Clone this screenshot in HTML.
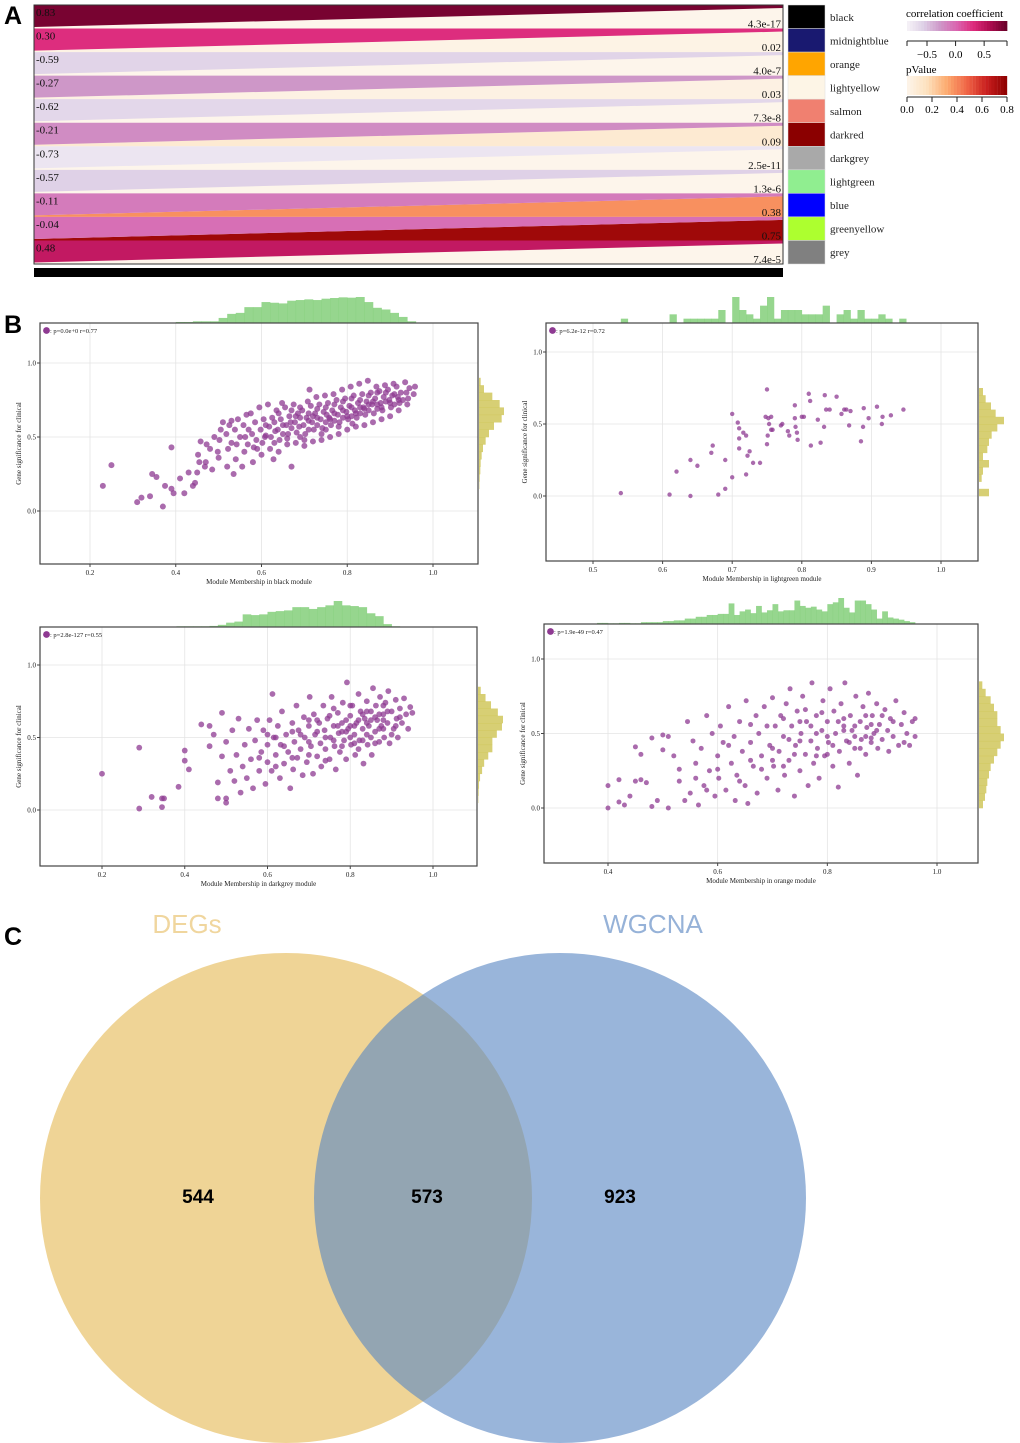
<!DOCTYPE html>
<html><head><meta charset="utf-8"><style>
body{margin:0;background:#fff;}
svg{display:block;font-family:"Liberation Serif",serif;}
</style></head><body>
<svg id="fig" width="1020" height="1443" viewBox="0 0 1020 1443">
<g id="panelA"></g>
<g id="panelB"></g>
<g id="panelC">
<ellipse cx="286" cy="1198" rx="246" ry="245" fill="#e8c26a" fill-opacity="0.7"/>
<ellipse cx="560" cy="1198" rx="246" ry="245" fill="#5b88c4" fill-opacity="0.62"/>
<text x="187" y="933" font-family="Liberation Sans,sans-serif" font-size="26" fill="#f0d69e" text-anchor="middle">DEGs</text>
<text x="653" y="933" font-family="Liberation Sans,sans-serif" font-size="26" fill="#96b2d8" text-anchor="middle">WGCNA</text>
<text x="198" y="1203" font-family="Liberation Sans,sans-serif" font-size="19" font-weight="bold" text-anchor="middle">544</text>
<text x="427" y="1203" font-family="Liberation Sans,sans-serif" font-size="19" font-weight="bold" text-anchor="middle">573</text>
<text x="620" y="1203" font-family="Liberation Sans,sans-serif" font-size="19" font-weight="bold" text-anchor="middle">923</text>
</g>
<text x="4" y="24" font-family="Liberation Sans,sans-serif" font-size="25" font-weight="bold">A</text>
<text x="4" y="333" font-family="Liberation Sans,sans-serif" font-size="25" font-weight="bold">B</text>
<text x="4" y="945" font-family="Liberation Sans,sans-serif" font-size="25" font-weight="bold">C</text>
</svg>
<script>
const NS="http://www.w3.org/2000/svg";
// ---------- Panel A data ----------
const modules=["black","midnightblue","orange","lightyellow","salmon","darkred","darkgrey","lightgreen","blue","greenyellow","grey"];
const moduleColors=["#000000","#191970","#ffa500","#fdf5e6","#f08070","#8b0000","#a9a9a9","#90ee90","#0000ff","#adff2f","#808080"];
const corrValues=[0.83,0.30,-0.59,-0.27,-0.62,-0.21,-0.73,-0.57,-0.11,-0.04,0.48];
const corrLabels=["0.83","0.30","-0.59","-0.27","-0.62","-0.21","-0.73","-0.57","-0.11","-0.04","0.48"];
const pValues=[4.3e-17,0.02,4.0e-7,0.03,7.3e-8,0.09,2.5e-11,1.3e-6,0.38,0.75,7.4e-5];
const pLabels=["4.3e-17","0.02","4.0e-7","0.03","7.3e-8","0.09","2.5e-11","1.3e-6","0.38","0.75","7.4e-5"];
const corrTicks=[-0.5,0.0,0.5];
const pTicks=[0.0,0.2,0.4,0.6,0.8];

function mk(tag,attrs,parent){const e=document.createElementNS(NS,tag);for(const k in attrs)e.setAttribute(k,attrs[k]);if(parent)parent.appendChild(e);return e;}
function lerp(a,b,t){return a+(b-a)*t;}
function interp(stops,t){t=Math.max(0,Math.min(1,t));const n=stops.length-1;const i=Math.min(n-1,Math.floor(t*n));const f=t*n-i;const a=stops[i],b=stops[i+1];
return "rgb("+Math.round(lerp(a[0],b[0],f))+","+Math.round(lerp(a[1],b[1],f))+","+Math.round(lerp(a[2],b[2],f))+")";}
const corrStops=[[246,243,248],[222,208,230],[206,150,200],[218,100,175],[221,42,123],[172,12,78],[103,0,40]];
const pStops=[[253,245,235],[253,225,190],[252,170,110],[240,100,70],[200,30,30],[140,0,0]];
function corrColor(v){return interp(corrStops,(v+0.85)/1.75);}
function pColor(v){return interp(pStops,v/0.8);}

(function(){
 const g=document.getElementById('panelA');
 const x0=34,x1=783,top=5,bot=264,n=modules.length,h=(bot-top)/n;
 mk('rect',{x:x0,y:top,width:x1-x0,height:bot-top,fill:'#fdf5ea'},g);
 for(let i=0;i<n;i++){
  const y0=top+i*h,y1=y0+h;
  const pp=mk('polygon',{points:`${x0},${y1-1.5} ${x1},${y0+3} ${x1},${y1} ${x0},${y1}`,fill:pColor(pValues[i])},g);
  
  
  const cp=mk('polygon',{points:`${x0},${y0} ${x1},${y0} ${x1},${y0+3} ${x0},${y1-1.5}`,fill:corrColor(corrValues[i])},g);
  
  
  const t1=mk('text',{x:x0+2,y:y0+11,'font-size':11,fill:'#111'},g);t1.textContent=corrLabels[i];
  
  
  const t2=mk('text',{x:x1-2,y:y1-1,'font-size':11,'text-anchor':'end',fill:'#111'},g);t2.textContent=pLabels[i];
  
  
  const sq=mk('rect',{x:788,y:y0,width:37,height:h,fill:moduleColors[i],stroke:'#ddd','stroke-width':0.5},g);
  
  
  const ml=mk('text',{x:830,y:y0+h/2+4,'font-size':11,fill:'#222'},g);ml.textContent=modules[i];
  
  
 }
 mk('rect',{x:x0,y:top,width:x1-x0,height:bot-top,fill:'none',stroke:'#333','stroke-width':1},g);
 const bar=mk('rect',{x:x0,y:268,width:x1-x0,height:9,fill:'#000'},g);
 
 
 const cb=mk('g',{},g);
 
 
 const ct=mk('text',{x:906,y:17,'font-size':11},cb);ct.textContent='correlation coefficient';
 const cx=v=>907+(v+0.85)/1.75*100;
 for(let k=0;k<35;k++){const v=-0.85+k*1.75/35;mk('rect',{x:cx(v),y:21,width:3.2,height:10,fill:corrColor(v+0.025)},cb);}
 mk('line',{x1:907,x2:1007,y1:41,y2:41,stroke:'#222'},cb);
 [907,1007].forEach(x=>mk('line',{x1:x,x2:x,y1:41,y2:46,stroke:'#222'},cb));
 corrTicks.forEach(v=>{mk('line',{x1:cx(v),x2:cx(v),y1:41,y2:46,stroke:'#222'},cb);const t=mk('text',{x:cx(v),y:58,'font-size':11,'text-anchor':'middle'},cb);t.textContent=(v<0?'\u2212':'')+Math.abs(v).toFixed(1);});
 const pb=mk('g',{},g);
 
 
 const pt=mk('text',{x:906,y:73,'font-size':11},pb);pt.textContent='pValue';
 const px=v=>907+v/0.8*100;
 for(let k=0;k<32;k++){const v=k*0.8/32;mk('rect',{x:px(v),y:76,width:3.3,height:19,fill:pColor(v+0.0125)},pb);}
 mk('line',{x1:907,x2:1007,y1:97,y2:97,stroke:'#222'},pb);
 pTicks.forEach(v=>{mk('line',{x1:px(v),x2:px(v),y1:97,y2:102,stroke:'#222'},pb);const t=mk('text',{x:px(v),y:113,'font-size':11,'text-anchor':'middle'},pb);t.textContent=v.toFixed(1);});
})();

// ---------- Panel B data ----------
const blackPts=[0.23,0.17,0.25,0.31,0.31,0.06,0.32,0.09,0.34,0.10,0.345,0.25,0.355,0.23,0.37,0.03,0.375,0.17,0.39,0.43,0.39,0.15,0.395,0.12,0.41,0.22,0.42,0.12,0.43,0.26,0.44,0.17,0.445,0.19,0.455,0.33,
0.45,0.26,0.452,0.38,0.458,0.47,0.47,0.33,0.472,0.45,0.468,0.30,0.48,0.42,0.485,0.28,0.49,0.50,0.50,0.36,0.502,0.48,0.505,0.55,0.498,0.40,0.51,0.60,
0.52,0.30,0.522,0.42,0.518,0.52,0.525,0.58,0.53,0.61,0.54,0.35,0.542,0.45,0.538,0.55,0.545,0.62,0.535,0.25,0.56,0.40,0.562,0.50,0.558,0.58,0.565,0.65,0.555,0.30,0.568,0.45,
0.58,0.33,0.582,0.43,0.578,0.52,0.585,0.60,0.575,0.66,0.588,0.48,0.60,0.38,0.602,0.46,0.598,0.55,0.605,0.62,0.595,0.70,0.608,0.50,0.61,0.58,
0.62,0.42,0.622,0.50,0.618,0.57,0.625,0.63,0.615,0.72,0.628,0.35,0.632,0.54,0.64,0.40,0.642,0.48,0.638,0.55,0.645,0.62,0.635,0.68,0.648,0.73,0.65,0.58,
0.66,0.45,0.662,0.52,0.658,0.58,0.665,0.64,0.655,0.70,0.668,0.60,0.67,0.30,0.68,0.46,0.682,0.53,0.678,0.60,0.685,0.66,0.675,0.72,0.688,0.57,0.69,0.63,
0.70,0.44,0.702,0.52,0.698,0.58,0.705,0.63,0.695,0.68,0.708,0.74,0.71,0.61,0.712,0.82,0.72,0.47,0.722,0.55,0.718,0.60,0.725,0.66,0.715,0.71,0.728,0.77,0.73,0.63,
0.74,0.48,0.742,0.56,0.738,0.62,0.745,0.67,0.735,0.72,0.748,0.78,0.75,0.60,0.752,0.65,0.76,0.50,0.762,0.58,0.758,0.63,0.765,0.68,0.755,0.73,0.768,0.79,0.77,0.66,
0.78,0.52,0.782,0.60,0.778,0.65,0.785,0.70,0.775,0.75,0.788,0.82,0.79,0.68,0.80,0.55,0.802,0.62,0.798,0.67,0.805,0.71,0.795,0.76,0.808,0.84,0.81,0.70,0.812,0.59,
0.82,0.57,0.822,0.63,0.818,0.68,0.825,0.73,0.815,0.78,0.828,0.86,0.83,0.70,0.84,0.58,0.842,0.65,0.838,0.70,0.845,0.74,0.835,0.79,0.848,0.88,0.85,0.72,
0.86,0.60,0.862,0.66,0.858,0.72,0.865,0.76,0.855,0.80,0.868,0.84,0.87,0.69,0.88,0.62,0.882,0.68,0.878,0.73,0.885,0.77,0.875,0.81,0.888,0.85,
0.90,0.64,0.902,0.70,0.898,0.75,0.905,0.78,0.895,0.82,0.908,0.86,0.92,0.68,0.922,0.73,0.918,0.77,0.925,0.80,0.915,0.84,0.93,0.75,
0.94,0.72,0.942,0.76,0.938,0.80,0.945,0.83,0.935,0.87,0.955,0.79,0.958,0.84,
0.59,0.42,0.61,0.51,0.63,0.46,0.63,0.60,0.65,0.52,0.67,0.56,0.67,0.68,0.69,0.50,0.69,0.70,0.71,0.55,0.71,0.66,0.73,0.58,0.73,0.69,0.75,0.55,0.75,0.70,
0.77,0.61,0.77,0.72,0.79,0.63,0.79,0.74,0.81,0.64,0.81,0.76,0.83,0.66,0.83,0.75,0.85,0.68,0.85,0.78,0.87,0.72,0.87,0.80,0.89,0.74,0.89,0.80,0.91,0.72,0.91,0.79,
0.57,0.55,0.55,0.50,0.53,0.46,0.64,0.66,0.66,0.49,0.68,0.64,0.70,0.48,0.72,0.64,0.74,0.52,0.76,0.62,0.78,0.57,0.80,0.64,0.82,0.66,0.84,0.69,0.86,0.74,0.88,0.70,0.90,0.73,0.92,0.75];
const lightgreenPts=[0.54,0.02,0.61,0.01,0.64,0.0,0.68,0.01,0.69,0.05,0.62,0.17,0.64,0.25,0.65,0.21,0.67,0.30,0.672,0.35,0.69,0.25,0.70,0.13,0.72,0.15,0.71,0.33,0.70,0.57,0.708,0.51,0.71,0.47,0.71,0.40,0.716,0.44,0.72,0.42,0.722,0.28,0.725,0.31,0.73,0.23,0.74,0.23,0.75,0.36,0.751,0.42,0.748,0.55,0.752,0.54,0.756,0.55,0.753,0.50,0.756,0.46,0.758,0.46,0.75,0.74,0.77,0.49,0.772,0.50,0.78,0.45,0.782,0.42,0.79,0.63,0.79,0.54,0.791,0.48,0.793,0.44,0.794,0.39,0.80,0.55,0.803,0.55,0.81,0.71,0.812,0.66,0.813,0.35,0.823,0.53,0.827,0.37,0.832,0.48,0.833,0.70,0.835,0.60,0.84,0.60,0.85,0.69,0.857,0.57,0.861,0.60,0.864,0.60,0.87,0.59,0.868,0.49,0.885,0.38,0.888,0.48,0.889,0.61,0.896,0.54,0.908,0.62,0.915,0.50,0.916,0.55,0.928,0.56,0.946,0.60];
const darkgreyPts=[0.20,0.25,0.29,0.43,0.29,0.01,0.32,0.09,0.345,0.08,0.35,0.08,0.345,0.02,0.385,0.16,0.40,0.41,0.40,0.34,0.41,0.28,0.44,0.59,0.46,0.58,0.47,0.52,0.46,0.44,0.48,0.08,0.50,0.05,0.50,0.08,0.49,0.67,
0.48,0.19,0.49,0.37,0.50,0.47,0.51,0.27,0.515,0.55,0.52,0.20,0.525,0.38,0.53,0.63,0.535,0.12,0.54,0.30,0.545,0.45,0.55,0.22,0.555,0.56,0.56,0.35,0.565,0.15,0.57,0.48,0.575,0.62,0.58,0.27,
0.585,0.40,0.59,0.55,0.595,0.18,0.60,0.33,0.60,0.45,0.605,0.62,0.61,0.27,0.612,0.80,0.615,0.50,0.62,0.38,0.625,0.58,0.63,0.22,0.632,0.45,0.635,0.68,0.64,0.32,0.645,0.52,0.65,0.40,0.655,0.15,
0.66,0.60,0.662,0.28,0.665,0.47,0.67,0.72,0.672,0.36,0.675,0.55,0.68,0.42,0.685,0.24,0.688,0.64,0.69,0.50,0.695,0.33,0.70,0.58,0.702,0.78,0.705,0.44,0.71,0.25,0.712,0.66,0.715,0.52,0.72,0.37,
0.725,0.60,0.728,0.46,0.73,0.30,0.735,0.72,0.738,0.55,0.74,0.42,0.745,0.63,0.75,0.35,0.752,0.50,0.755,0.78,0.76,0.58,0.762,0.44,0.765,0.28,0.77,0.67,0.772,0.53,0.775,0.40,0.78,0.60,0.782,0.74,
0.785,0.48,0.79,0.35,0.792,0.88,0.795,0.56,0.80,0.65,0.802,0.45,0.805,0.72,0.81,0.52,0.812,0.38,0.815,0.60,0.82,0.80,0.822,0.48,0.825,0.68,0.83,0.56,0.832,0.32,0.835,0.63,0.84,0.75,0.842,0.45,
0.845,0.58,0.85,0.68,0.852,0.38,0.855,0.84,0.86,0.54,0.862,0.72,0.865,0.62,0.87,0.47,0.872,0.78,0.875,0.58,0.88,0.66,0.882,0.50,0.885,0.74,0.89,0.60,0.892,0.82,0.895,0.46,0.90,0.68,0.905,0.56,
0.91,0.76,0.912,0.63,0.915,0.50,0.92,0.70,0.925,0.60,0.93,0.77,0.935,0.66,0.94,0.56,0.945,0.71,0.95,0.67,0.72,0.62,0.75,0.65,0.78,0.54,0.80,0.58,0.82,0.62,0.84,0.52,0.86,0.64,0.88,0.56,0.74,0.50,0.70,0.47,
0.58,0.36,0.60,0.52,0.62,0.30,0.64,0.44,0.66,0.36,0.68,0.52,0.70,0.38,0.72,0.54,0.74,0.34,0.76,0.48,0.78,0.44,0.80,0.50,0.82,0.42,0.84,0.60,0.86,0.46,0.88,0.62,0.90,0.52,0.92,0.64,
0.77,0.58,0.79,0.62,0.81,0.58,0.83,0.66,0.85,0.62,0.87,0.66,0.89,0.68,0.91,0.58,0.81,0.46,0.85,0.50,0.79,0.54,0.83,0.48,0.87,0.56,0.76,0.70,0.80,0.72,0.84,0.68,0.88,0.72,0.62,0.50,0.66,0.54,0.70,0.62];
const orangePts=[0.40,0.15,0.40,0.0,0.42,0.04,0.42,0.19,0.43,0.02,0.44,0.08,0.45,0.41,0.45,0.18,0.46,0.19,0.47,0.17,0.46,0.36,0.48,0.47,0.48,0.01,0.49,0.05,0.50,0.49,0.50,0.39,0.51,0.48,0.51,0.0,0.52,0.35,0.53,0.18,
0.53,0.26,0.54,0.05,0.545,0.58,0.55,0.10,0.555,0.45,0.56,0.30,0.565,0.02,0.57,0.40,0.575,0.15,0.58,0.62,0.585,0.25,0.59,0.50,0.595,0.08,0.60,0.35,0.602,0.20,0.605,0.55,0.61,0.44,0.615,0.12,
0.62,0.68,0.625,0.30,0.63,0.48,0.632,0.05,0.635,0.22,0.64,0.58,0.645,0.38,0.65,0.15,0.652,0.72,0.655,0.03,0.66,0.44,0.665,0.28,0.67,0.62,0.672,0.10,0.675,0.50,0.68,0.35,0.685,0.68,0.69,0.20,
0.695,0.42,0.70,0.74,0.702,0.28,0.705,0.55,0.71,0.12,0.712,0.38,0.715,0.62,0.72,0.48,0.722,0.22,0.725,0.70,0.73,0.32,0.732,0.80,0.735,0.55,0.74,0.08,0.742,0.42,0.745,0.65,0.75,0.25,0.752,0.50,
0.755,0.75,0.76,0.36,0.762,0.58,0.765,0.15,0.77,0.45,0.772,0.84,0.775,0.30,0.78,0.62,0.782,0.40,0.785,0.20,0.79,0.52,0.792,0.72,0.795,0.35,0.80,0.58,0.802,0.44,0.805,0.80,0.81,0.28,0.812,0.65,
0.815,0.50,0.82,0.14,0.822,0.38,0.825,0.70,0.83,0.55,0.832,0.84,0.835,0.45,0.84,0.30,0.842,0.62,0.845,0.52,0.85,0.40,0.852,0.75,0.855,0.22,0.86,0.58,0.862,0.46,0.865,0.68,0.87,0.36,0.872,0.54,
0.875,0.77,0.88,0.44,0.882,0.62,0.885,0.50,0.89,0.70,0.892,0.40,0.895,0.56,0.90,0.46,0.905,0.66,0.91,0.52,0.912,0.38,0.915,0.60,0.92,0.48,0.925,0.72,0.93,0.42,0.935,0.56,0.94,0.64,0.945,0.50,
0.95,0.42,0.955,0.58,0.96,0.48,0.96,0.60,0.70,0.40,0.75,0.45,0.80,0.48,0.85,0.55,0.88,0.47,0.78,0.35,0.66,0.32,0.72,0.28,0.83,0.60,0.87,0.48,
0.56,0.20,0.58,0.12,0.60,0.26,0.62,0.42,0.64,0.18,0.66,0.56,0.68,0.26,0.70,0.32,0.72,0.60,0.74,0.36,0.76,0.66,0.78,0.50,0.80,0.36,0.82,0.58,0.84,0.44,0.86,0.40,0.88,0.56,0.90,0.62,0.92,0.58,0.94,0.44,
0.69,0.55,0.73,0.46,0.77,0.55,0.81,0.42,0.85,0.48,0.89,0.52,0.83,0.52,0.87,0.62,0.79,0.64,0.75,0.58];
// histogram bins: start, width, counts
const blackTopStart=0.26, blackTopW=0.02, blackTopCounts=[1,1,1,1,1,1,1,3,3,5,5,5,15,27,30,47,47,62,60,58,66,68,70,68,72,74,76,75,77,62,45,40,30,18,5];
const blackRightStart=0.15, blackRightW=0.05, blackRightCounts=[1,2,4,5,8,12,20,30,45,68,75,62,40,15,5];
const lgTopStart=0.54, lgTopW=0.01, lgTopCounts=[1,0,0,0,0,0,0,2,0,1,1,1,1,1,3,0,6,3,2,1,4,6,1,3,3,3,2,2,2,4,0,2,3,1,3,1,1,2,1,0,1];
const lgRightStart=0.0, lgRightW=0.05, lgRightCounts=[30,0,8,12,30,12,25,30,38,55,75,50,36,20,12];
const dgTopStart=0.20, dgTopW=0.02, dgTopCounts=[1,0,1,0,1,1,0,1,1,2,2,2,2,3,6,12,15,35,33,35,42,44,46,55,55,50,55,60,72,60,58,55,38,30,8,2];
const dgRightStart=0.05, dgRightW=0.05, dgRightCounts=[1,2,3,6,12,18,30,42,42,55,70,73,58,38,22,8];
const orTopStart=0.38, orTopW=0.01, orTopCounts=[3,3,2,2,3,3,2,2,5,5,5,5,8,8,10,10,15,15,20,20,25,25,28,28,57,25,35,40,30,50,32,38,55,35,38,38,65,50,45,48,40,35,55,60,72,45,32,65,65,55,40,15,35,18,15,12,8,5];
const orRightStart=0.0, orRightW=0.05, orRightCounts=[12,18,22,25,30,35,45,55,65,75,65,55,55,45,35,20,10];
const xTickVals=[[0.2,0.4,0.6,0.8,1.0],[0.5,0.6,0.7,0.8,0.9,1.0],[0.2,0.4,0.6,0.8,1.0],[0.4,0.6,0.8,1.0]];
const yTickVals=[0.0,0.5,1.0];
const statLabels=[": p=0.0e+0 r=0.77",": p=6.2e-12 r=0.72",": p=2.8e-127 r=0.55",": p=1.9e-49 r=0.47"];
const moduleNames=["black","lightgreen","darkgrey","orange"];

const plots=[
 {pts:blackPts,L:40,T:323,R:478,B:564,xa:0.2,xpa:90,xb:1.0,xpb:433,ypa:511,ypb:363,top:[blackTopStart,blackTopW,blackTopCounts],right:[blackRightStart,blackRightW,blackRightCounts],r:3.0},
 {pts:lightgreenPts,L:546,T:323,R:978,B:561,xa:0.5,xpa:593,xb:1.0,xpb:941,ypa:496,ypb:352,top:[lgTopStart,lgTopW,lgTopCounts],right:[lgRightStart,lgRightW,lgRightCounts],r:2.2},
 {pts:darkgreyPts,L:40,T:627,R:477,B:866,xa:0.2,xpa:102,xb:1.0,xpb:433,ypa:810,ypb:665,top:[dgTopStart,dgTopW,dgTopCounts],right:[dgRightStart,dgRightW,dgRightCounts],r:2.9},
 {pts:orangePts,L:544,T:624,R:978,B:863,xa:0.4,xpa:608,xb:1.0,xpb:937,ypa:808,ypb:659,top:[orTopStart,orTopW,orTopCounts],right:[orRightStart,orRightW,orRightCounts],r:2.5}
];

(function(){
 const root=document.getElementById('panelB');
 plots.forEach((p,pi)=>{
  const g=mk('g',{},root);
  
  
  const X=v=>p.xpa+(v-p.xa)*(p.xpb-p.xpa)/(p.xb-p.xa);
  const Y=v=>p.ypa-(v)*(p.ypa-p.ypb);
  mk('rect',{x:p.L,y:p.T,width:p.R-p.L,height:p.B-p.T,fill:'#fff'},g);
  xTickVals[pi].forEach(v=>{mk('line',{x1:X(v),x2:X(v),y1:p.T,y2:p.B,stroke:'#e4e4e4','stroke-width':0.8},g);});
  yTickVals.forEach(v=>{mk('line',{x1:p.L,x2:p.R,y1:Y(v),y2:Y(v),stroke:'#e4e4e4','stroke-width':0.8},g);});
  const th=mk('g',{},g);
  
  
  const [ts,tw,tc]=p.top;const tmax=Math.max(...tc);
  tc.forEach((c,i)=>{if(!c)return;const x0=X(ts+i*tw),x1=X(ts+(i+1)*tw);const hh=c/tmax*26;
   const b=mk('rect',{x:x0,y:p.T-hh,width:x1-x0+0.3,height:hh,fill:'#7ccc72','fill-opacity':0.8},th);
   
   });
  const rh=mk('g',{},g);
  
  
  const [rs,rw,rc]=p.right;const rmax=Math.max(...rc);
  rc.forEach((c,i)=>{if(!c)return;const y0=Y(rs+(i+1)*rw),y1=Y(rs+i*rw);const ww=c/rmax*25;
   const b=mk('rect',{x:p.R+1,y:y0,width:ww,height:y1-y0+0.3,fill:'#c9bf45','fill-opacity':0.75},rh);
   
   });
  for(let i=0;i<p.pts.length;i+=2){
   const c=mk('circle',{cx:X(p.pts[i]),cy:Y(p.pts[i+1]),r:p.r,fill:'#8e3a92','fill-opacity':0.75},g);
   
   
  }
  mk('rect',{x:p.L,y:p.T,width:p.R-p.L,height:p.B-p.T,fill:'none',stroke:'#444','stroke-width':1.2},g);
  xTickVals[pi].forEach(v=>{mk('line',{x1:X(v),x2:X(v),y1:p.B,y2:p.B+3,stroke:'#444'},g);
   const t=mk('text',{x:X(v),y:p.B+11,'font-size':7,'text-anchor':'middle',fill:'#222'},g);t.textContent=v.toFixed(1);});
  yTickVals.forEach(v=>{mk('line',{x1:p.L-3,x2:p.L,y1:Y(v),y2:Y(v),stroke:'#444'},g);
   const t=mk('text',{x:p.L-4,y:Y(v)+2.5,'font-size':7,'text-anchor':'end',fill:'#222'},g);t.textContent=v.toFixed(1);});
  const xt=mk('text',{x:(p.L+p.R)/2,y:p.B+20,'font-size':7,'text-anchor':'middle',fill:'#222'},g);
  xt.textContent='Module Membership in '+moduleNames[pi]+' module';
  
  
  const ym=(p.T+p.B)/2;
  const yt=mk('text',{x:p.L-19,y:ym,'font-size':7,'text-anchor':'middle',fill:'#222',transform:`rotate(-90 ${p.L-19} ${ym})`},g);
  yt.textContent='Gene significance for clinical';
  
  
  const ld=mk('circle',{cx:p.L+6.5,cy:p.T+7.5,r:3.4,fill:'#8e3a92'},g);
  
  
  const lt=mk('text',{x:p.L+10,y:p.T+10,'font-size':6.5,fill:'#222'},g);lt.textContent=statLabels[pi];
  
  
 });
})();
</script>
</body></html>
